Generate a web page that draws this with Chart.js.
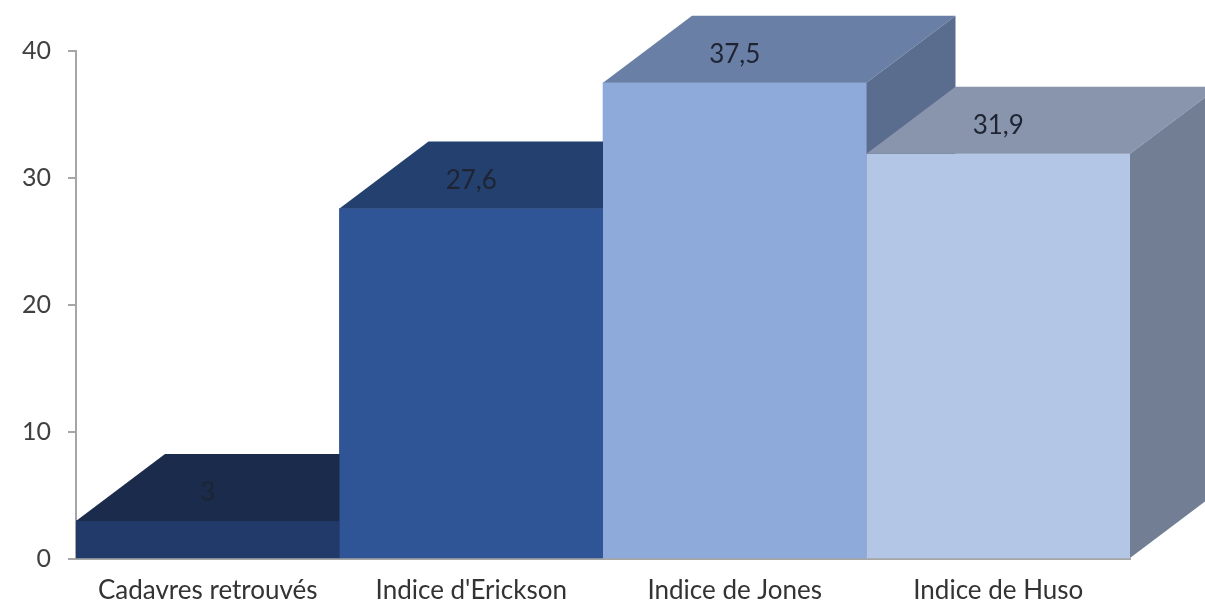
<!DOCTYPE html>
<html>
<head>
<meta charset="utf-8">
<script src="https://cdn.jsdelivr.net/npm/chart.js@4.4.1/dist/chart.umd.min.js"></script>
<style>
  html, body { margin: 0; padding: 0; background: #ffffff; }
  #wrap { width: 1205px; height: 607px; }
</style>
</head>
<body>
<div id="wrap"><canvas id="c" width="1205" height="607"></canvas></div>
<script>
const categories = ["Cadavres retrouvés", "Indice d'Erickson", "Indice de Jones", "Indice de Huso"];
const values = [3, 27.6, 37.5, 31.9];
const yTicks = [0, 10, 20, 30, 40];

const frontColors = ["#213a6a", "#2f5596", "#8eaadb", "#b4c6e6"];
const topColors   = ["#1b2b4b", "#24406e", "#6a7fa5", "#8895ad"];
const sideColors  = ["#15213a", "#1c3257", "#5b6d8f", "#727e94"];

const FONT = "Lato, 'Noto Sans', sans-serif";
const DEPTH_X = 89, DEPTH_Y = 67;

const bars3d = {
  id: 'bars3d',
  afterDatasetsDraw(chart) {
    const ctx = chart.ctx;
    const meta = chart.getDatasetMeta(0);
    ctx.save();
    meta.data.forEach((el, i) => {
      const p = el.getProps(['x', 'y', 'base', 'width'], true);
      const l = p.x - p.width / 2, r = p.x + p.width / 2;
      const t = p.y, b = p.base;
      ctx.fillStyle = frontColors[i];
      ctx.fillRect(l, t, r - l, b - t);
      ctx.fillStyle = topColors[i];
      ctx.beginPath();
      ctx.moveTo(l, t); ctx.lineTo(l + DEPTH_X, t - DEPTH_Y);
      ctx.lineTo(r + DEPTH_X, t - DEPTH_Y); ctx.lineTo(r, t); ctx.closePath();
      ctx.fill();
      ctx.fillStyle = sideColors[i];
      ctx.beginPath();
      ctx.moveTo(r, t); ctx.lineTo(r + DEPTH_X, t - DEPTH_Y);
      ctx.lineTo(r + DEPTH_X, b - DEPTH_Y); ctx.lineTo(r, b); ctx.closePath();
      ctx.fill();
    });
    ctx.fillStyle = '#1e2433';
    ctx.font = "26px " + FONT;
    ctx.textAlign = 'center';
    ctx.textBaseline = 'middle';
    meta.data.forEach((el, i) => {
      const p = el.getProps(['x', 'y'], true);
      ctx.fillText(String(values[i]).replace('.', ','), p.x, p.y - 28);
    });
    ctx.restore();
  }
};

new Chart(document.getElementById('c'), {
  type: 'bar',
  data: {
    labels: categories,
    datasets: [{
      data: values,
      backgroundColor: frontColors,
      borderWidth: 0,
      barPercentage: 1,
      categoryPercentage: 1
    }]
  },
  options: {
    responsive: false,
    devicePixelRatio: 1,
    animation: false,
    events: [],
    layout: { padding: { top: 51, right: 75, left: 0, bottom: 0 } },
    plugins: { legend: { display: false }, tooltip: { enabled: false } },
    scales: {
      y: {
        min: 0, max: 40,
        afterFit(s) { s.width = 76; },
        afterBuildTicks(s) { s.ticks = yTicks.map(v => ({ value: v })); },
        border: { display: true, color: '#a6a6a6', width: 2 },
        grid: { drawOnChartArea: false, drawTicks: true, tickLength: 8, color: '#a6a6a6', lineWidth: 2 },
        ticks: { color: '#404040', padding: 17, font: { family: FONT, size: 25 } }
      },
      x: {
        afterFit(s) { s.height = 48; },
        border: { display: true, color: '#a6a6a6', width: 2 },
        grid: { drawOnChartArea: false, drawTicks: false, color: '#a6a6a6' },
        ticks: { color: '#333333', padding: 16, maxRotation: 0, autoSkip: false, font: { family: FONT, size: 26 } }
      }
    }
  },
  plugins: [bars3d]
});
</script>
</body>
</html>
